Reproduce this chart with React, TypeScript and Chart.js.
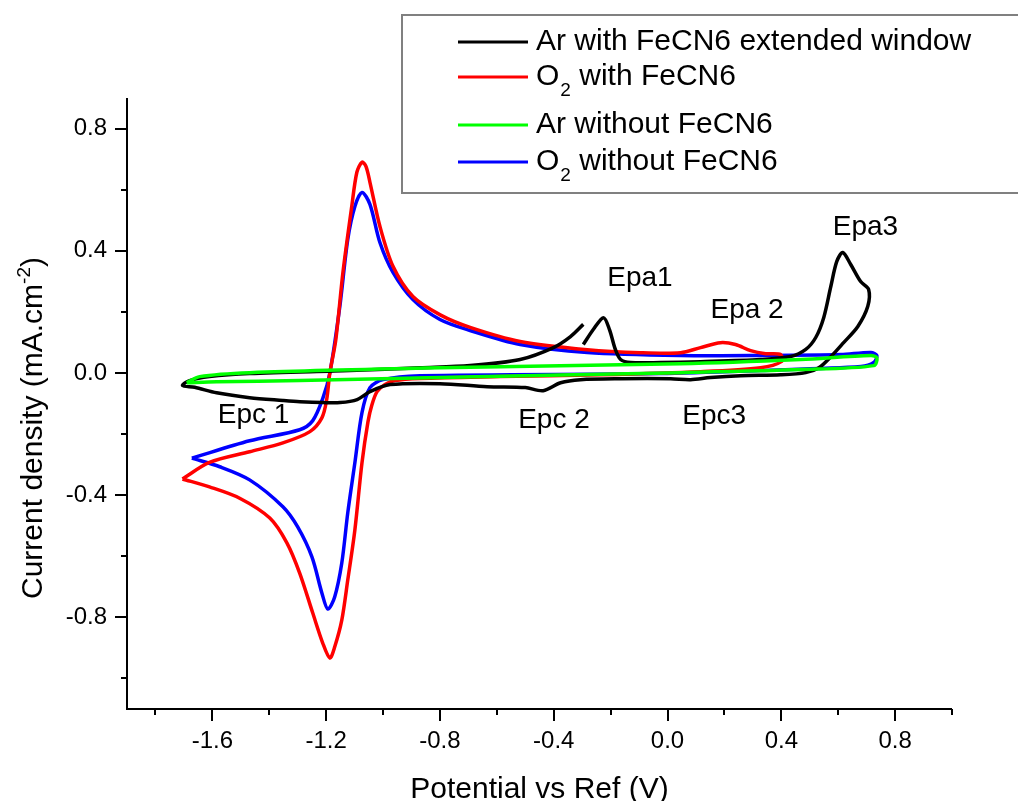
import React, { useEffect, useRef } from 'react';
import { Chart, registerables } from 'chart.js';

Chart.register(...registerables);

// ---------- data (potential V, current density mA.cm-2) ----------
const blackV = [-0.296, -0.261, -0.225, -0.204, -0.183, -0.165, -0.130, -0.025, 0.116, 0.327, 0.433, 0.486, 0.521, 0.549, 0.574, 0.595, 0.616, 0.644, 0.679, 0.707, 0.704, 0.669, 0.619, 0.574, 0.532, 0.486, 0.398, 0.257, 0.151, 0.081, 0.011, -0.165, -0.306, -0.376, -0.437, -0.500, -0.634, -0.800, -0.975, -1.046, -1.091, -1.151, -1.211, -1.292, -1.352, -1.469, -1.585, -1.662, -1.705, -1.680, -1.610, -1.469, -1.116, -0.870, -0.694, -0.518, -0.401, -0.341, -0.296];
const blackI = [0.093, 0.142, 0.181, 0.142, 0.076, 0.044, 0.034, 0.034, 0.037, 0.044, 0.054, 0.077, 0.116, 0.181, 0.283, 0.365, 0.394, 0.355, 0.299, 0.273, 0.218, 0.152, 0.099, 0.053, 0.017, 0.001, -0.006, -0.009, -0.015, -0.022, -0.019, -0.019, -0.022, -0.032, -0.058, -0.048, -0.045, -0.035, -0.038, -0.061, -0.087, -0.097, -0.097, -0.094, -0.090, -0.081, -0.065, -0.047, -0.041, -0.025, -0.012, -0.002, 0.008, 0.017, 0.024, 0.044, 0.083, 0.119, 0.159];

const redV = [-1.705, -1.610, -1.469, -1.352, -1.257, -1.215, -1.198, -1.187, -1.166, -1.141, -1.110, -1.092, -1.074, -1.060, -1.046, -1.011, -0.965, -0.895, -0.799, -0.694, -0.518, -0.282, -0.095, 0.046, 0.116, 0.186, 0.239, 0.292, 0.345, 0.398, 0.400, 0.327, 0.116, -0.236, -0.588, -0.870, -0.958, -0.993, -1.021, -1.039, -1.053, -1.074, -1.099, -1.124, -1.145, -1.170, -1.187, -1.212, -1.247, -1.293, -1.338, -1.398, -1.504, -1.610, -1.705];
const redI = [-0.347, -0.293, -0.258, -0.229, -0.192, -0.147, -0.087, 0.000, 0.109, 0.329, 0.545, 0.657, 0.690, 0.676, 0.624, 0.480, 0.349, 0.250, 0.190, 0.149, 0.103, 0.076, 0.066, 0.066, 0.083, 0.099, 0.093, 0.073, 0.063, 0.060, 0.037, 0.017, 0.004, -0.006, -0.012, -0.018, -0.025, -0.038, -0.061, -0.104, -0.160, -0.294, -0.514, -0.678, -0.809, -0.897, -0.933, -0.884, -0.786, -0.655, -0.556, -0.475, -0.410, -0.373, -0.347];

const greenV = [-1.690, -1.645, -1.469, -0.800, 0.046, 0.468, 0.715, 0.736, 0.725, 0.468, 0.046, -0.800, -1.293, -1.585, -1.690];
const greenI = [-0.032, -0.012, 0.001, 0.017, 0.030, 0.044, 0.057, 0.050, 0.024, 0.011, 0.001, -0.015, -0.025, -0.029, -0.032];

const blueV = [-1.672, -1.469, -1.293, -1.247, -1.212, -1.187, -1.152, -1.124, -1.099, -1.074, -1.046, -1.011, -0.965, -0.895, -0.800, -0.694, -0.518, -0.282, 0.046, 0.327, 0.609, 0.715, 0.736, 0.725, 0.680, 0.327, -0.025, -0.870, -1.000, -1.046, -1.074, -1.099, -1.124, -1.145, -1.170, -1.194, -1.215, -1.250, -1.300, -1.352, -1.469, -1.574, -1.672];
const blueI = [-0.279, -0.222, -0.186, -0.156, -0.084, 0.000, 0.217, 0.437, 0.545, 0.591, 0.552, 0.427, 0.329, 0.240, 0.175, 0.139, 0.093, 0.067, 0.057, 0.057, 0.060, 0.067, 0.057, 0.034, 0.021, 0.008, -0.002, -0.009, -0.022, -0.048, -0.130, -0.294, -0.458, -0.622, -0.733, -0.773, -0.720, -0.602, -0.504, -0.438, -0.350, -0.307, -0.279];

const seriesLabels = ['Ar with FeCN6 extended window', 'O₂ with FeCN6', 'Ar without FeCN6', 'O₂ without FeCN6'];
const seriesColors = ['#000000', '#ff0000', '#00ff00', '#0000ff'];

const xMajorTicks = [-1.6, -1.2, -0.8, -0.4, 0.0, 0.4, 0.8];
const xMinorTicks = [-1.8, -1.4, -1.0, -0.6, -0.2, 0.2, 0.6, 1.0];
const yMajorTicks = [-0.8, -0.4, 0.0, 0.4, 0.8];
const yMinorTicks = [-1.0, -0.6, -0.2, 0.2, 0.6];

const peakLabels = ['Epa1', 'Epa 2', 'Epa3', 'Epc 1', 'Epc 2', 'Epc3'];
const peakLabelV = [-0.212, 0.151, 0.581, -1.581, -0.525, 0.052];
const peakLabelI = [0.283, 0.181, 0.450, -0.163, -0.179, -0.166];

const xTitle = 'Potential vs Ref (V)';
const yTitleMain = 'Current density (mA.cm';
const yTitleSup = '-2';
const yTitleEnd = ')';

const FONT = '"Liberation Sans", Arial, Helvetica, sans-serif';

function toPoints(xs: number[], ys: number[]) {
  return xs.map((x, i) => ({ x, y: ys[i] }));
}

const decorPlugin = {
  id: 'cvDecor',
  afterDraw(chart: any) {
    const ctx: CanvasRenderingContext2D = chart.ctx;
    const { left, right, top, bottom } = chart.chartArea;
    const xs = chart.scales.x;
    const ys = chart.scales.y;
    ctx.save();
    // axes
    ctx.strokeStyle = '#000';
    ctx.lineWidth = 2;
    ctx.beginPath();
    ctx.moveTo(left, top);
    ctx.lineTo(left, bottom);
    ctx.lineTo(right, bottom);
    ctx.stroke();
    // ticks
    ctx.beginPath();
    xMajorTicks.forEach((v) => {
      const p = Math.round(xs.getPixelForValue(v));
      ctx.moveTo(p, bottom);
      ctx.lineTo(p, bottom + 12);
    });
    xMinorTicks.forEach((v) => {
      const p = Math.round(xs.getPixelForValue(v));
      ctx.moveTo(p, bottom);
      ctx.lineTo(p, bottom + 6);
    });
    yMajorTicks.forEach((v) => {
      const p = Math.round(ys.getPixelForValue(v));
      ctx.moveTo(left, p);
      ctx.lineTo(left - 12, p);
    });
    yMinorTicks.forEach((v) => {
      const p = Math.round(ys.getPixelForValue(v));
      ctx.moveTo(left, p);
      ctx.lineTo(left - 6, p);
    });
    ctx.stroke();

    ctx.fillStyle = '#000';
    // x title
    ctx.font = `30px ${FONT}`;
    ctx.textAlign = 'center';
    ctx.textBaseline = 'alphabetic';
    ctx.fillText(xTitle, (left + right) / 2, 798);

    // y title (rotated, with superscript)
    ctx.save();
    ctx.translate(42, 428);
    ctx.rotate(-Math.PI / 2);
    ctx.textAlign = 'left';
    ctx.font = `30px ${FONT}`;
    const w1 = ctx.measureText(yTitleMain).width;
    const w3 = ctx.measureText(yTitleEnd).width;
    ctx.font = `19px ${FONT}`;
    const w2 = ctx.measureText(yTitleSup).width;
    let cx = -(w1 + w2 + w3) / 2;
    ctx.font = `30px ${FONT}`;
    ctx.fillText(yTitleMain, cx, 0);
    cx += w1;
    ctx.font = `19px ${FONT}`;
    ctx.fillText(yTitleSup, cx, -12);
    cx += w2;
    ctx.font = `30px ${FONT}`;
    ctx.fillText(yTitleEnd, cx, 0);
    ctx.restore();

    // peak annotations
    ctx.font = `28px ${FONT}`;
    ctx.textAlign = 'left';
    ctx.textBaseline = 'alphabetic';
    peakLabels.forEach((t, i) => {
      ctx.fillText(t, xs.getPixelForValue(peakLabelV[i]), ys.getPixelForValue(peakLabelI[i]));
    });

    // legend box
    ctx.fillStyle = '#ffffff';
    ctx.fillRect(402, 16, 620, 176);
    ctx.strokeStyle = '#808080';
    ctx.lineWidth = 2;
    ctx.strokeRect(402, 15, 640, 178);
    const rowY = [42, 77, 125, 162];
    seriesLabels.forEach((label, i) => {
      const y = rowY[i];
      ctx.strokeStyle = seriesColors[i];
      ctx.lineWidth = 3;
      ctx.beginPath();
      ctx.moveTo(458, y);
      ctx.lineTo(528, y);
      ctx.stroke();
      ctx.fillStyle = '#000';
      ctx.textAlign = 'left';
      ctx.textBaseline = 'alphabetic';
      const base = y + 8;
      let tx = 536;
      const idx = label.indexOf('₂');
      if (idx >= 0) {
        const pre = label.slice(0, idx);
        const post = label.slice(idx + 1);
        ctx.font = `30px ${FONT}`;
        ctx.fillText(pre, tx, base);
        tx += ctx.measureText(pre).width + 1;
        ctx.font = `19px ${FONT}`;
        ctx.fillText('2', tx, base + 11);
        tx += ctx.measureText('2').width;
        ctx.font = `30px ${FONT}`;
        ctx.fillText(post, tx, base);
      } else {
        ctx.font = `30px ${FONT}`;
        ctx.fillText(label, tx, base);
      }
    });
    ctx.restore();
  },
};

export default function App() {
  const ref = useRef<HTMLCanvasElement | null>(null);
  useEffect(() => {
    document.body.style.margin = '0';
    const canvas = ref.current;
    if (!canvas) return;
    const seriesData = [
      toPoints(blackV, blackI),
      toPoints(redV, redI),
      toPoints(greenV, greenI),
      toPoints(blueV, blueI),
    ];
    const order = [2, 0, 1, 3];
    const chart = new Chart(canvas, {
      type: 'scatter',
      data: {
        datasets: order.map((i) => ({
          label: seriesLabels[i],
          data: seriesData[i],
          showLine: true,
          borderColor: seriesColors[i],
          backgroundColor: seriesColors[i],
          borderWidth: 3.5,
          pointRadius: 0,
          tension: 0.3,
          fill: false,
        })),
      },
      options: {
        animation: false,
        responsive: false,
        layout: { padding: { top: 98, right: 66, left: 0, bottom: 0 } },
        plugins: { legend: { display: false }, tooltip: { enabled: false } },
        scales: {
          x: {
            type: 'linear',
            min: -1.9,
            max: 1.0,
            grid: { display: false, drawTicks: false },
            border: { display: false },
            afterBuildTicks: (s: any) => {
              s.ticks = xMajorTicks.map((v) => ({ value: v }));
            },
            afterFit: (s: any) => {
              s.height = 92;
            },
            ticks: {
              padding: 18,
              color: '#000',
              font: { family: FONT, size: 24 },
              maxRotation: 0,
              callback: (v: any) => Number(v).toFixed(1),
            },
          },
          y: {
            type: 'linear',
            min: -1.1,
            max: 0.9,
            grid: { display: false, drawTicks: false },
            border: { display: false },
            afterBuildTicks: (s: any) => {
              s.ticks = yMajorTicks.map((v) => ({ value: v }));
            },
            afterFit: (s: any) => {
              s.width = 127;
            },
            ticks: {
              padding: 20,
              color: '#000',
              font: { family: FONT, size: 24 },
              callback: (v: any) => Number(v).toFixed(1),
            },
          },
        },
      },
      plugins: [decorPlugin],
    });
    return () => chart.destroy();
  }, []);
  return (
    <div style={{ width: 1018, height: 801, background: '#fff' }}>
      <canvas ref={ref} width={1018} height={801} style={{ display: 'block' }} />
    </div>
  );
}
